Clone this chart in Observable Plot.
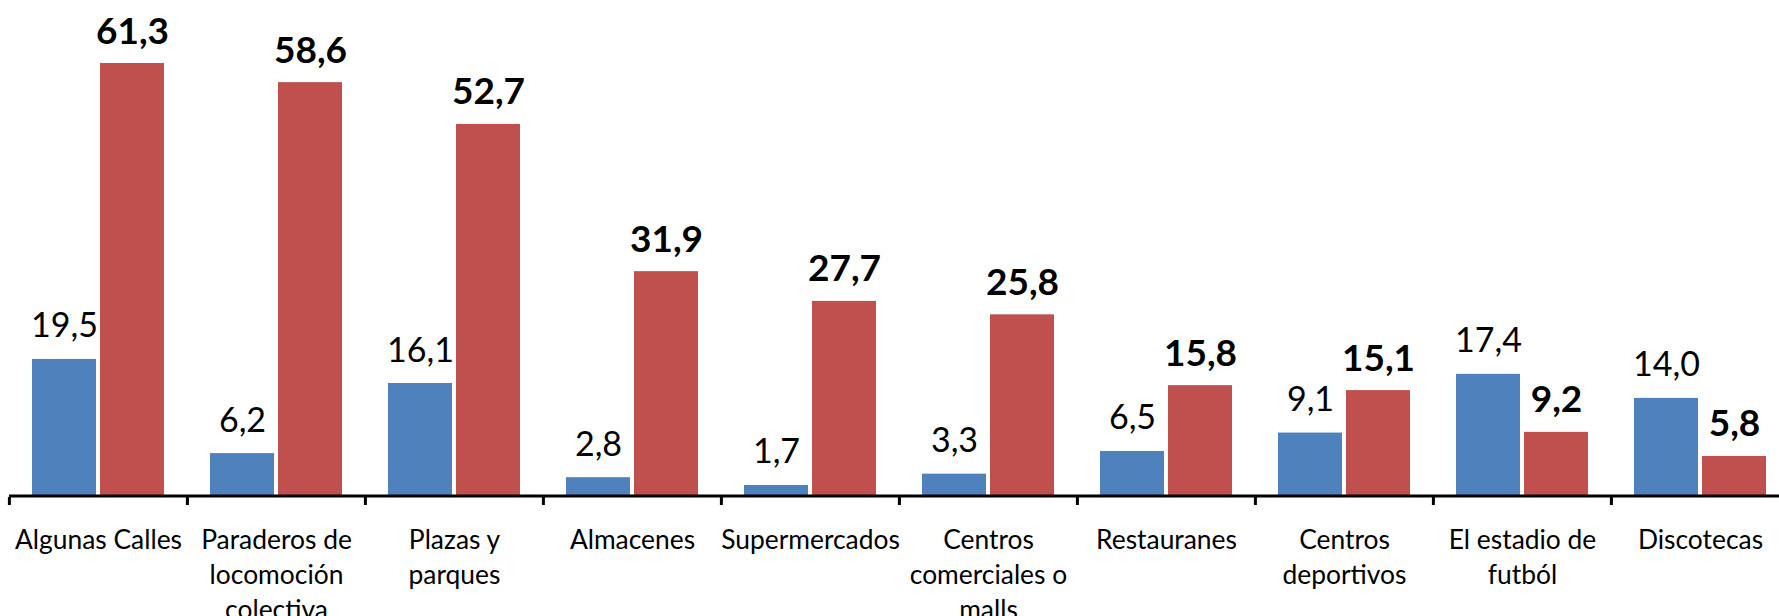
<!DOCTYPE html>
<html>
<head>
<meta charset="utf-8">
<script src="https://cdn.jsdelivr.net/npm/d3@7"></script>
<script src="https://cdn.jsdelivr.net/npm/@observablehq/plot@0.6"></script>
<style>
  html, body { margin: 0; padding: 0; background: #fff; overflow: hidden; }
  #chart svg { max-width: none; overflow: hidden; display: block; }
</style>
</head>
<body>
<div id="chart"></div>
<script>
const categories = [
  "Algunas Calles",
  "Paraderos de locomoción colectiva",
  "Plazas y parques",
  "Almacenes",
  "Supermercados",
  "Centros comerciales o malls",
  "Restauranes",
  "Centros deportivos",
  "El estadio de futból",
  "Discotecas"
];
const categoryLabels = [
  "Algunas Calles",
  "Paraderos de\nlocomoción\ncolectiva",
  "Plazas y\nparques",
  "Almacenes",
  "Supermercados",
  "Centros\ncomerciales o\nmalls",
  "Restauranes",
  "Centros\ndeportivos",
  "El estadio de\nfutból",
  "Discotecas"
];
const series = ["Serie 1", "Serie 2"];
const serie1 = [19.5, 6.2, 16.1, 2.8, 1.7, 3.3, 6.5, 9.1, 17.4, 14.0];
const serie2 = [61.3, 58.6, 52.7, 31.9, 27.7, 25.8, 15.8, 15.1, 9.2, 5.8];
const colors = ["#4F81BD", "#C0504D"];

const data = [];
categories.forEach((c, i) => {
  data.push({category: c, series: series[0], value: serie1[i]});
  data.push({category: c, series: series[1], value: serie2[i]});
});
const fmt = v => v.toFixed(1).replace(".", ",");

const width = 1779, height = 616;
const marginLeft = 8, marginRight = -11;
const step = (width - marginLeft - marginRight) / categories.length;

const chart = Plot.plot({
  width, height,
  marginTop: 0, marginBottom: 119, marginLeft, marginRight,
  style: {fontFamily: "Lato, 'Open Sans', sans-serif", background: "#fff", color: "#000"},
  fx: {domain: categories, padding: 0, label: null},
  x: {domain: series, paddingInner: 0.065, paddingOuter: 0.33, axis: null},
  y: {domain: [0, 70.2], axis: null},
  color: {domain: series, range: colors},
  marks: [
    Plot.barY(data, {fx: "category", x: "series", y: "value", fill: "series"}),
    Plot.ruleY([0], {stroke: "#000", strokeWidth: 3, dy: -1.5}),
    Plot.axisFx({anchor: "bottom", tickSize: 8, tickFormat: () => "", strokeWidth: 3, dx: -step / 2, label: null}),
    Plot.text(data.filter(d => d.series === series[0]), {
      fx: "category", x: "series", y: "value", text: d => fmt(d.value),
      lineAnchor: "bottom", dy: -22, fontSize: 34, fontWeight: "normal", fill: "#000"
    }),
    Plot.text(data.filter(d => d.series === series[1]), {
      fx: "category", x: "series", y: "value", text: d => fmt(d.value),
      lineAnchor: "bottom", dy: -20, fontSize: 37, fontWeight: "bold", fill: "#000"
    }),
    Plot.text(categories, {
      fx: d => d, text: (d, i) => categoryLabels[i],
      frameAnchor: "bottom", lineAnchor: "top", dy: 27,
      fontSize: 26.4, lineHeight: 1.32, fill: "#000"
    })
  ]
});
document.getElementById("chart").appendChild(chart);
</script>
</body>
</html>
